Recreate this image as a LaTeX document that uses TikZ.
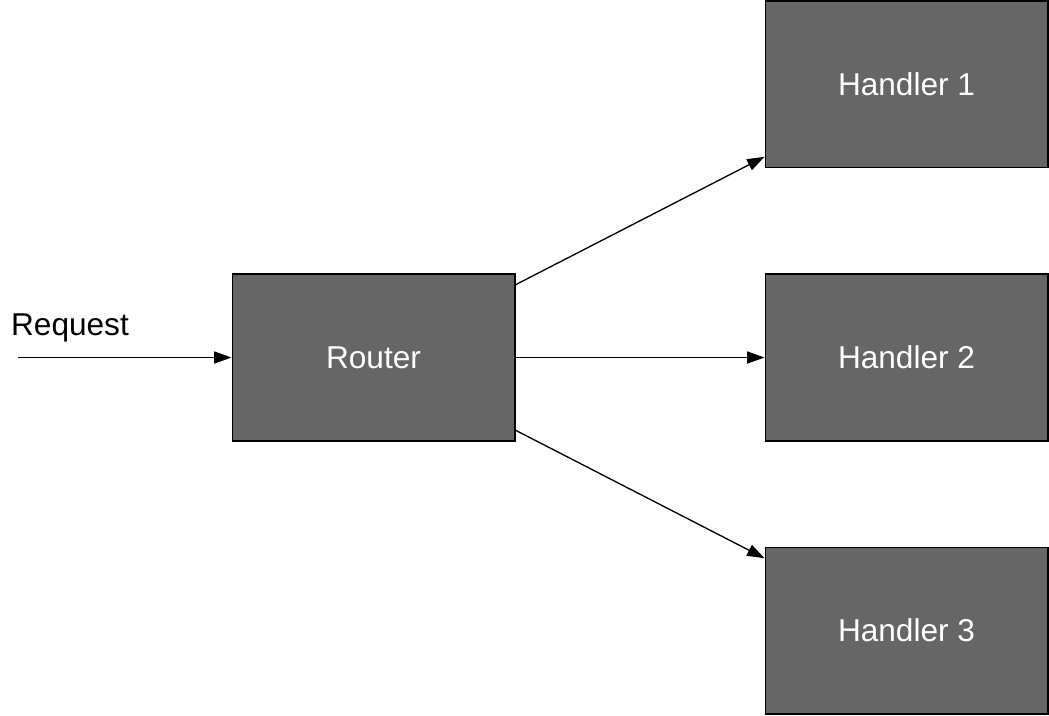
\documentclass[tikz,border=0pt]{standalone}
\usepackage{fontspec}
\setmainfont{Liberation Sans}
\usetikzlibrary{arrows.meta}
\begin{document}
\begin{tikzpicture}[
  x = 0.75pt, y = -0.75pt,
  box/.style = {draw, line width = 1pt, fill = black!60, text = white,
                minimum width = 212pt, minimum height = 125pt,
                font = \fontsize{23.7}{28}\selectfont},
  link/.style = {-{Triangle[length = 13pt, width = 9pt]}, line width = 1pt},
  ]
  \useasboundingbox (0,0) rectangle (1049,716);
  \node [box] (router) at (373.5,357.5) {Router};
  \node [box] (h1) at (906.5,84.5)  {Handler 1};
  \node [box] (h2) at (906.5,357.5) {Handler 2};
  \node [box] (h3) at (906.5,630.5) {Handler 3};
  \node [font = \fontsize{23.7}{28}\selectfont] (req) at (70,328) {Request};
  \coordinate (in) at (18,357.5);
  \draw [link] (in) -- (router);
  \draw [link] (router) -- (h1);
  \draw [link] (router) -- (h2);
  \draw [link] (router) -- (h3);
\end{tikzpicture}
\end{document}
